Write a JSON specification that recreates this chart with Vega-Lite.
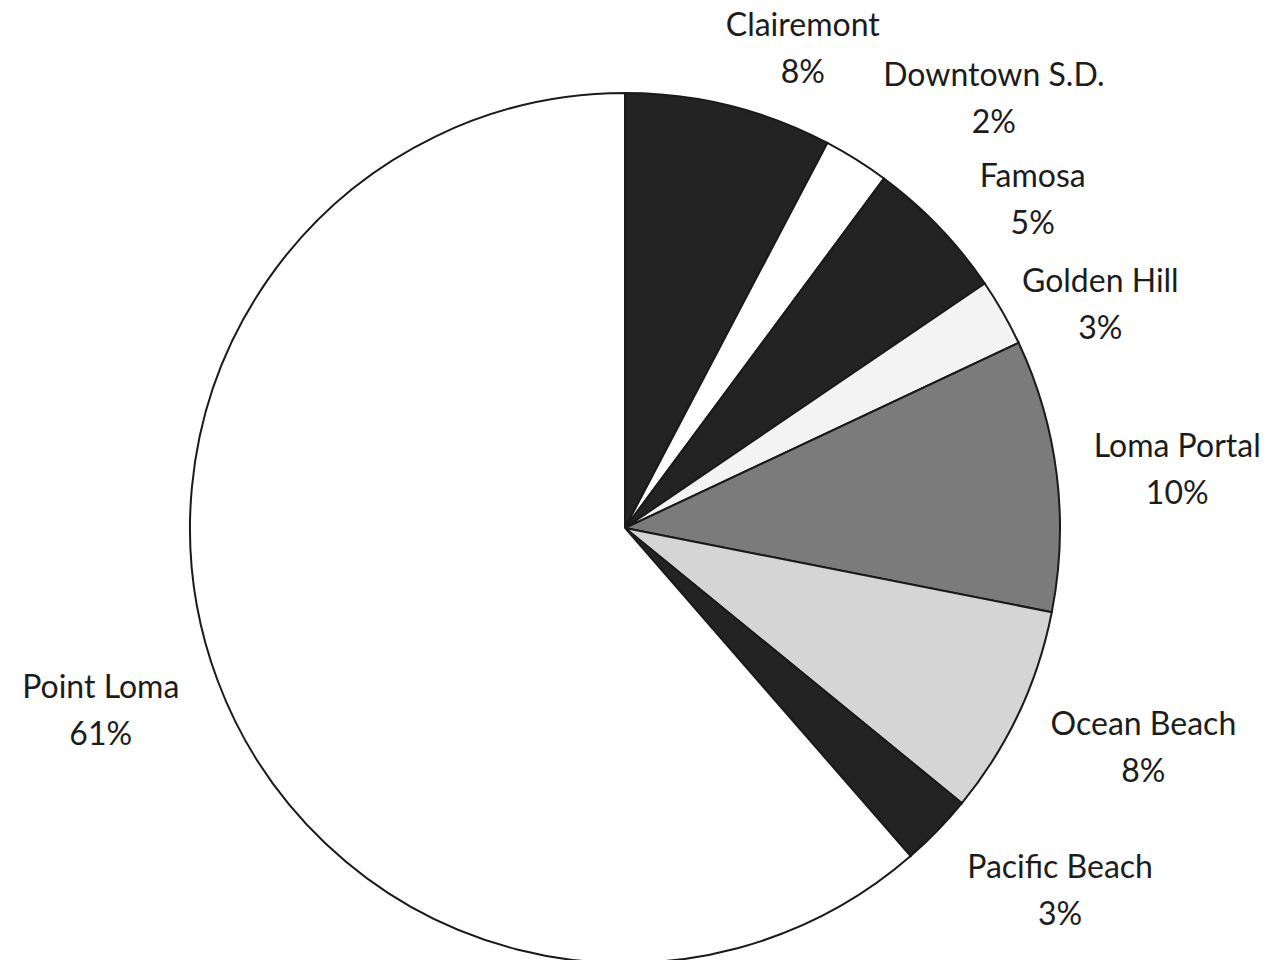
{
  "$schema": "https://vega.github.io/schema/vega-lite/v6.json",
  "width": 1250,
  "height": 1056,
  "autosize": {"type": "none"},
  "padding": {"left": 0, "top": 0, "right": 21, "bottom": 0},
  "background": "white",
  "view": {"stroke": null},
  "config": {"text": {"font": "Lato", "fontSize": 32, "fill": "#1c1c1c", "lineBreak": "\n", "lineHeight": 47, "align": "center", "baseline": "middle", "radius": 500}},
  "data": {"values": [
    {"name": "Clairemont", "label": "Clairemont\n8%", "value": 7.7, "order": 1},
    {"name": "Downtown S.D.", "label": "Downtown S.D.\n2%", "value": 2.45, "order": 2},
    {"name": "Famosa", "label": "Famosa\n5%", "value": 5.35, "order": 3},
    {"name": "Golden Hill", "label": "Golden Hill\n3%", "value": 2.5, "order": 4},
    {"name": "Loma Portal", "label": "Loma Portal\n10%", "value": 10.1, "order": 5},
    {"name": "Ocean Beach", "label": "Ocean Beach\n8%", "value": 7.8, "order": 6},
    {"name": "Pacific Beach", "label": "Pacific Beach\n3%", "value": 2.7, "order": 7},
    {"name": "Point Loma", "label": "Point Loma\n61%", "value": 61.4, "order": 8}
  ]},
  "encoding": {
    "theta": {"field": "value", "type": "quantitative", "stack": true},
    "order": {"field": "order", "type": "quantitative", "sort": "ascending"}
  },
  "layer": [
    {
      "mark": {"type": "arc", "radius": 435, "stroke": "#1a1a1a", "strokeWidth": 2},
      "encoding": {
        "color": {"field": "name", "type": "nominal", "legend": null,
          "scale": {"domain": ["Clairemont", "Downtown S.D.", "Famosa", "Golden Hill", "Loma Portal", "Ocean Beach", "Pacific Beach", "Point Loma"],
                    "range": ["#232323", "#ffffff", "#232323", "#f3f3f3", "#7b7b7b", "#d5d5d5", "#232323", "#ffffff"]}}
      }
    },
    {"mark": {"type": "text", "dx": 58, "dy": -17},
     "encoding": {"text": {"condition": {"test": "datum.name === 'Clairemont'", "field": "label"}, "value": ""}}},
    {"mark": {"type": "text", "dx": 103, "dy": -29},
     "encoding": {"text": {"condition": {"test": "datum.name === 'Downtown S.D.'", "field": "label"}, "value": ""}}},
    {"mark": {"type": "text", "dx": 47, "dy": -5},
     "encoding": {"text": {"condition": {"test": "datum.name === 'Famosa'", "field": "label"}, "value": ""}}},
    {"mark": {"type": "text", "dx": 41, "dy": 2},
     "encoding": {"text": {"condition": {"test": "datum.name === 'Golden Hill'", "field": "label"}, "value": ""}}},
    {"mark": {"type": "text", "dx": 56, "dy": -20},
     "encoding": {"text": {"condition": {"test": "datum.name === 'Loma Portal'", "field": "label"}, "value": ""}}},
    {"mark": {"type": "text", "dx": 66, "dy": -16},
     "encoding": {"text": {"condition": {"test": "datum.name === 'Ocean Beach'", "field": "label"}, "value": ""}}},
    {"mark": {"type": "text", "dx": 76, "dy": -8},
     "encoding": {"text": {"condition": {"test": "datum.name === 'Pacific Beach'", "field": "label"}, "value": ""}}},
    {"mark": {"type": "text", "dx": -56, "dy": -15},
     "encoding": {"text": {"condition": {"test": "datum.name === 'Point Loma'", "field": "label"}, "value": ""}}}
  ]
}
